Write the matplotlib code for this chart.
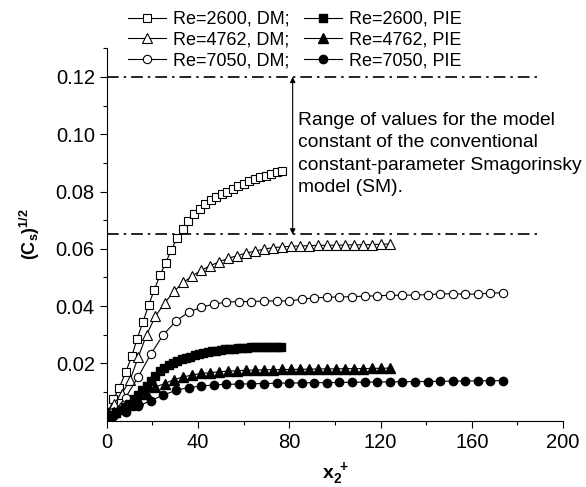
import matplotlib
matplotlib.use("Agg")
import matplotlib.pyplot as plt
from matplotlib.ticker import FixedLocator, MultipleLocator, FormatStrFormatter

plt.rcParams['font.family'] = ['Liberation Sans', 'DejaVu Sans']
plt.rcParams['mathtext.fontset'] = 'custom'
plt.rcParams['mathtext.rm'] = 'Liberation Sans'
plt.rcParams['mathtext.it'] = 'Liberation Sans'
plt.rcParams['mathtext.bf'] = 'Liberation Sans:bold'

# Re=2600, dynamic model (DM)
x_sq = [0.7, 3.0, 5.6, 8.4, 11.0, 13.4, 15.9, 18.4, 20.9, 23.4, 25.9, 28.4, 30.9, 33.3,
        35.7, 38.2, 40.7, 43.1, 45.5, 48.0, 50.4, 52.8, 55.2, 57.6, 60.0, 62.5, 64.9,
        67.3, 69.7, 72.2, 74.6, 77.0]
y_sq_dm = [0.0030, 0.0075, 0.0116, 0.0171, 0.0225, 0.0287, 0.0345, 0.0403, 0.0458, 0.0508,
           0.0552, 0.0597, 0.0638, 0.0670, 0.0697, 0.0720, 0.0740, 0.0755, 0.0769, 0.0780,
           0.0790, 0.0800, 0.0810, 0.0819, 0.0827, 0.0835, 0.0842, 0.0849, 0.0855, 0.0861,
           0.0867, 0.0872]

# Re=4762
x_tr = [0.9, 3.3, 6.6, 10.2, 13.8, 17.5, 21.4, 25.5, 29.6, 33.6, 37.5, 41.4, 45.4, 49.3,
        53.3, 57.2, 61.1, 65.1, 69.0, 73.0, 76.9, 80.9, 84.8, 88.8, 92.7, 96.6, 100.6,
        104.5, 108.5, 112.4, 116.4, 120.3, 124.3]
y_tr_dm = [0.0031, 0.0060, 0.0095, 0.0141, 0.0221, 0.0300, 0.0365, 0.0412, 0.0452, 0.0483,
           0.0505, 0.0525, 0.0541, 0.0555, 0.0567, 0.0576, 0.0585, 0.0592, 0.0599, 0.0604,
           0.0607, 0.0609, 0.0610, 0.0611, 0.0612, 0.0612, 0.0613, 0.0613, 0.0614, 0.0614,
           0.0615, 0.0616, 0.0617]
y_tr_pie = [0.0015, 0.0030, 0.0045, 0.0055, 0.0072, 0.0095, 0.0118, 0.0130, 0.0144, 0.0153,
            0.0160, 0.0165, 0.0168, 0.0171, 0.0173, 0.0175, 0.0176, 0.0177, 0.0178, 0.0178,
            0.0179, 0.0179, 0.0180, 0.0180, 0.0181, 0.0181, 0.0181, 0.0182, 0.0182, 0.0182,
            0.0183, 0.0183, 0.0184]

# Re=7050
x_ci = [0.5, 2.9, 8.3, 13.8, 19.3, 24.8, 30.4, 35.9, 41.4, 46.9, 52.4, 57.9, 63.4, 69.0,
        74.5, 80.0, 85.5, 91.0, 96.5, 102.0, 107.5, 113.0, 118.6, 124.1, 129.6, 135.1,
        140.6, 146.1, 151.6, 157.1, 162.6, 168.1, 173.6]
y_ci_dm = [0.0025, 0.0029, 0.0081, 0.0153, 0.0232, 0.0300, 0.0348, 0.0379, 0.0396, 0.0407,
           0.0414, 0.0416, 0.0416, 0.0418, 0.0418, 0.0418, 0.0424, 0.0429, 0.0431, 0.0432,
           0.0433, 0.0435, 0.0436, 0.0438, 0.0438, 0.0439, 0.0440, 0.0443, 0.0443, 0.0442,
           0.0442, 0.0446, 0.0446]
y_ci_pie = [0.0012, 0.0016, 0.0031, 0.0051, 0.0070, 0.0090, 0.0106, 0.0116, 0.0121, 0.0125,
            0.0127, 0.0128, 0.0129, 0.0130, 0.0131, 0.0132, 0.0132, 0.0133, 0.0133, 0.0134,
            0.0134, 0.0135, 0.0135, 0.0136, 0.0136, 0.0137, 0.0137, 0.0138, 0.0138, 0.0139,
            0.0139, 0.0140, 0.0140]

# Re=2600, PIE (denser sampling)
x_sq_pie = [0.5, 2.4, 4.3, 6.2, 8.1, 10.0, 11.9, 13.8, 15.7, 17.6, 19.5, 21.4, 23.3, 25.2,
            27.1, 29.0, 30.9, 32.8, 34.7, 36.6, 38.5, 40.4, 42.3, 44.2, 46.1, 48.0, 49.9,
            51.8, 53.7, 55.6, 57.5, 59.4, 61.3, 63.2, 65.1, 67.0, 68.9, 70.8, 72.7, 74.6,
            76.5]
y_sq_pie = [0.0015, 0.0020, 0.0028, 0.0038, 0.0048, 0.0060, 0.0075, 0.0090, 0.0106, 0.0122,
            0.0138, 0.0155, 0.0172, 0.0185, 0.0194, 0.0202, 0.0208, 0.0214, 0.0219, 0.0224,
            0.0228, 0.0232, 0.0236, 0.0239, 0.0242, 0.0245, 0.0247, 0.0249, 0.0251, 0.0252,
            0.0253, 0.0254, 0.0255, 0.0256, 0.0256, 0.0257, 0.0257, 0.0257, 0.0258, 0.0258,
            0.0258]

cs_range = [0.065, 0.12]

fig = plt.figure(figsize=(5.86, 4.87), dpi=100)
ax = fig.add_axes([0.182, 0.136, 0.779, 0.765])

lw = 0.8
ax.plot(x_sq, y_sq_dm, '-s', color='black', lw=lw, ms=5.5, mfc='white', mew=0.8,
        label='Re=2600, DM;')
ax.plot(x_tr, y_tr_dm, '-^', color='black', lw=lw, ms=6.5, mfc='white', mew=0.8,
        label='Re=4762, DM;')
ax.plot(x_ci, y_ci_dm, '-o', color='black', lw=lw, ms=6, mfc='white', mew=0.8,
        label='Re=7050, DM;')
ax.plot(x_sq_pie, y_sq_pie, '-s', color='black', lw=lw, ms=5.5, label='Re=2600, PIE')
ax.plot(x_tr, y_tr_pie, '-^', color='black', lw=lw, ms=6.5, label='Re=4762, PIE')
ax.plot(x_ci, y_ci_pie, '-o', color='black', lw=lw, ms=6, label='Re=7050, PIE')

# bounds of the Smagorinsky constant range
for v in cs_range:
    ax.plot([0, 190], [v, v], color='black', lw=1.2, linestyle=(0, (7, 3, 1.5, 3)))

ax.annotate('', xy=(81.5, cs_range[1]), xytext=(81.5, cs_range[0]),
            arrowprops=dict(arrowstyle='<|-|>', color='black', lw=0.8,
                            mutation_scale=8, shrinkA=0, shrinkB=0))
ax.text(84, 0.1078, 'Range of values for the model\nconstant of the conventional\n'
        'constant-parameter Smagorinsky\nmodel (SM).', fontsize=13.9, va='top',
        ha='left', linespacing=1.42)

ax.set_xlim(0, 200)
ax.set_ylim(0, 0.13)
ax.xaxis.set_major_locator(MultipleLocator(40))
ax.xaxis.set_minor_locator(MultipleLocator(20))
ax.yaxis.set_major_locator(FixedLocator([0.02, 0.04, 0.06, 0.08, 0.10, 0.12]))
ax.yaxis.set_minor_locator(FixedLocator([0.01, 0.03, 0.05, 0.07, 0.09, 0.11, 0.13]))
ax.yaxis.set_major_formatter(FormatStrFormatter('%.2f'))
ax.tick_params(which='major', direction='out', length=5, width=0.8, labelsize=14.5)
ax.tick_params(which='minor', direction='out', length=3, width=0.8)
for s in ['top', 'right']:
    ax.spines[s].set_visible(False)
for s in ['left', 'bottom']:
    ax.spines[s].set_linewidth(0.8)

ax.set_xlabel(r'$\mathbf{x_2^{\ +}}$', fontsize=14, labelpad=6)
ax.set_ylabel(r'$\mathbf{(C_s)^{1/2}}$', fontsize=13, labelpad=10)

fig.legend(loc='upper left', bbox_to_anchor=(0.2, 1.0), ncol=2, frameon=False,
           fontsize=13, handlelength=2.1, handletextpad=0.4, columnspacing=0.8,
           labelspacing=0.2, borderpad=0.1)

fig.savefig('out.png', dpi=100)
